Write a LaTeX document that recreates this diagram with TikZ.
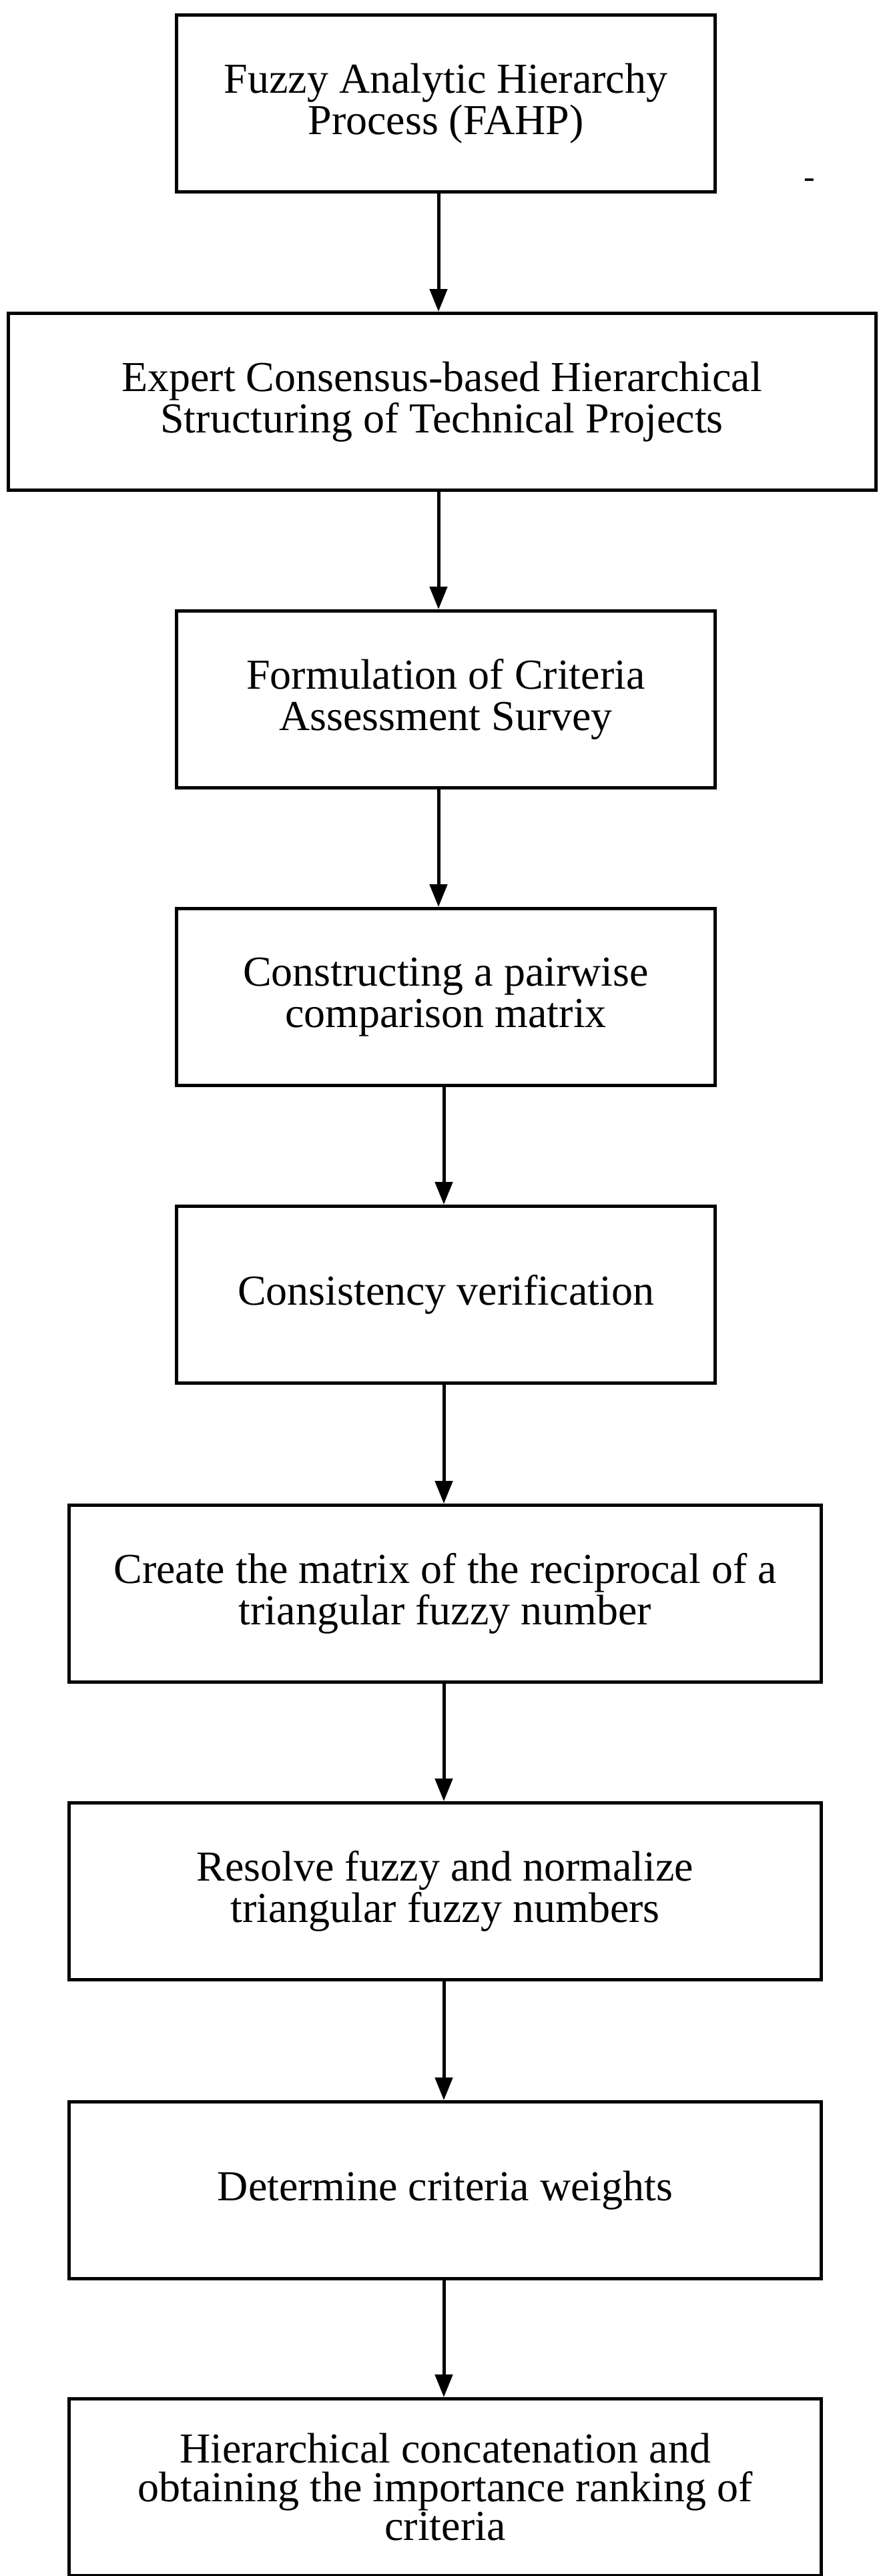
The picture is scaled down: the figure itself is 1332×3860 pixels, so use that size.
\documentclass[tikz,border=0pt]{standalone}
\usepackage{fontspec}
\setmainfont{Liberation Serif}
\usetikzlibrary{arrows.meta}
\begin{document}
\begin{tikzpicture}[x=1pt,y=-1pt,
 box/.style={draw,line width=5pt,minimum height=265pt,align=center,font=\fontsize{64}{62}\selectfont,inner sep=0pt},
 arr/.style={line width=5pt,-{Triangle[length=34pt,width=26pt]}}]
\useasboundingbox (0,0) rectangle (1332,3860);
\node[box,minimum width=807pt] (b1) at (668,155) {Fuzzy Analytic Hierarchy\\Process (FAHP)};
\node[box,minimum width=1300pt] (b2) at (662,602) {Expert Consensus-based Hierarchical\\Structuring of Technical Projects};
\node[box,minimum width=807pt] (b3) at (668,1048) {Formulation of Criteria\\Assessment Survey};
\node[box,minimum width=807pt] (b4) at (668,1494) {Constructing a pairwise\\comparison matrix};
\node[box,minimum width=807pt] (b5) at (668,1940) {Consistency verification};
\node[box,minimum width=1127pt] (b6) at (667,2388) {Create the matrix of the reciprocal of a\\triangular fuzzy number};
\node[box,minimum width=1127pt] (b7) at (667,2834) {Resolve fuzzy and normalize\\triangular fuzzy numbers};
\node[box,minimum width=1127pt] (b8) at (667,3282) {Determine criteria weights};
\node[box,minimum width=1127pt,font=\fontsize{64}{58}\selectfont] (b9) at (667,3727) {Hierarchical concatenation and\\obtaining the importance ranking of\\criteria};
\node[font=\fontsize{50}{50}\selectfont] (d) at (1213,275) {-};
\draw[arr] (b1.south -| 657,0) -- (b2.north -| 657,0);
\draw[arr] (b2.south -| 657,0) -- (b3.north -| 657,0);
\draw[arr] (b3.south -| 657,0) -- (b4.north -| 657,0);
\draw[arr] (b4.south -| 665,0) -- (b5.north -| 665,0);
\draw[arr] (b5.south -| 665,0) -- (b6.north -| 665,0);
\draw[arr] (b6.south -| 665,0) -- (b7.north -| 665,0);
\draw[arr] (b7.south -| 665,0) -- (b8.north -| 665,0);
\draw[arr] (b8.south -| 665,0) -- (b9.north -| 665,0);
\end{tikzpicture}
\end{document}
